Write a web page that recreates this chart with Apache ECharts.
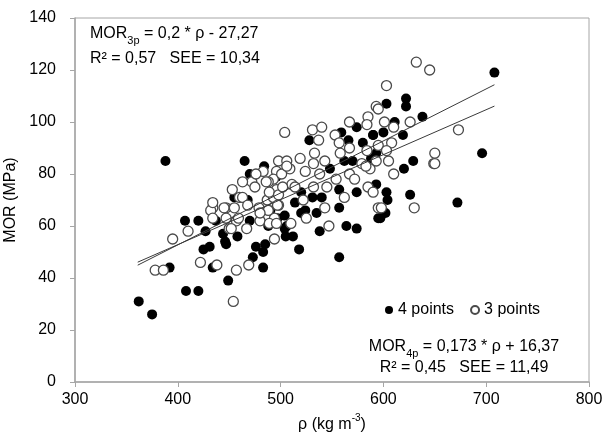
<!DOCTYPE html>
<html>
<head>
<meta charset="utf-8">
<script src="https://cdn.jsdelivr.net/npm/echarts@6/dist/echarts.min.js"></script>
<style>
  html, body { margin: 0; padding: 0; background: #fff; }
  #chart { width: 605px; height: 435px; }
</style>
</head>
<body>
<div id="chart"></div>
<script>
// Density (kg m-3) vs MOR (MPa) for specimens tested in 4-point and 3-point bending
const fourPoints = [
  [362,31],[375,26],[388,85],[408,35],[420,35],[392,44],
  [407,62],[420,62],[427,58],[431,52],[425,51],[434,44],[449,39],
  [437,62],[444,57],[447,53],[446,54],[458,56],[465,85],[484,83],[470,80],
  [455,71],[468,70],[488,60],[497,63],[505,56],[504,59],
  [473,48],[483,50],[476,52],[483,44],[485,53],
  [514,69],[524,66],[535,65],[557,67],[506,60],[512,56],[518,51],[538,58],
  [564,60],[574,59],[557,48],[595,63],[504,64],[520,65],
  [496,79],[540,71],[557,74],[574,73],[593,76],[531,71],[528,93],[559,96],
  [566,93],[574,98],[590,95],[570,85],[588,86],[562,85],
  [629,85],[620,82],[626,72],[672,69],[603,73],[604,70],[602,65],[597,63],
  [708,119],[622,109],[622,106],[603,107],[638,102],[611,100],[600,96],
  [619,95],[590,95],[593,88],[696,88],
  [520,73],[548,82],[580,92],[490,66],[470,62]
];

const threePoints = [
  [378,43],[386,43],[395,55],[410,58],[422,46],[438,45],[454,31],[457,43],
  [469,45],[450,59],[457,62],
  [434,67],[447,67],[432,66],[434,69],[434,63],[447,63],[452,59],[467,59],
  [480,62],[494,63],[459,63],
  [453,74],[460,71],[463,71],[445,67],[455,67],[468,68],[479,67],[487,70],
  [498,68],[488,66],[480,65],[489,61],
  [504,96],[531,97],[540,98],[567,100],[585,102],[584,99],[593,106],[537,93],
  [553,95],[557,92],[567,90],
  [533,88],[543,85],[519,86],[498,85],[506,85],[509,82],[496,81],[558,88],
  [584,89],[579,84],[587,82],[524,81],[532,84],[538,80],[567,80],[554,78],
  [493,78],[511,76],[545,75],[562,71],[572,78],[585,75],[522,70],[493,71],
  [496,74],
  [472,77],[463,77],[488,77],[475,75],[489,73],[498,72],[483,81],[501,80],
  [506,83],[476,80],[486,77],[502,75],[514,75],[532,75],[583,83],
  [494,55],[510,61],[525,63],[497,68],[496,61],[543,67],[547,60],[595,67],
  [649,84],[610,80],[630,67],[590,73],[598,67],
  [632,123],[645,120],[603,114],[595,105],[626,100],[673,97],[650,88],
  [650,84],[601,100],[610,98],[608,92],[595,91],[603,89],[593,85],[605,85]
];

// Linear fits: [slope, intercept] and the density range they span
const fit3p = [0.2, -27.27];
const fit4p = [0.173, -16.37];
const fitRange = [361, 708];

const xTicks = [300, 400, 500, 600, 700, 800];
const yTicks = [0, 20, 40, 60, 80, 100, 120, 140];

function fitLine(fit) {
  return fitRange.map(x => [x, fit[0] * x + fit[1]]);
}

const FONT = "'Liberation Sans', Arial, sans-serif";
const FS = 16;
const AXIS_COLOR = '#a6a6a6';

const eqRich = {
  t: { fontSize: FS, fill: '#000', fontFamily: FONT, lineHeight: 20, verticalAlign: 'top' },
  s: { fontSize: 11, fill: '#000', fontFamily: FONT, lineHeight: 20, verticalAlign: 'bottom' }
};

const chart = echarts.init(document.getElementById('chart'), null, { renderer: 'canvas' });

chart.setOption({
  animation: false,
  backgroundColor: '#fff',
  textStyle: { fontFamily: FONT },
  grid: {
    left: 75, right: 16, top: 18, bottom: 53,
    containLabel: false,
    outerBoundsMode: 'none',
    show: true, borderColor: AXIS_COLOR, borderWidth: 1
  },
  xAxis: {
    type: 'value',
    min: xTicks[0], max: xTicks[xTicks.length - 1], interval: 100,
    name: '{t|ρ (kg m}{s|-3}{t|)}',
    nameLocation: 'middle', nameGap: 29,
    nameTextStyle: {
      rich: {
        t: { fontSize: FS, color: '#000', fontFamily: FONT, lineHeight: 20, verticalAlign: 'bottom' },
        s: { fontSize: 10, color: '#000', fontFamily: FONT, lineHeight: 20, verticalAlign: 'top' }
      }
    },
    axisLine: { lineStyle: { color: AXIS_COLOR, width: 1.5 } },
    axisTick: { show: true, inside: false, length: 5, lineStyle: { color: AXIS_COLOR } },
    axisLabel: { fontSize: FS, color: '#000', margin: 10, fontFamily: FONT },
    splitLine: { show: false }
  },
  yAxis: {
    type: 'value',
    min: yTicks[0], max: yTicks[yTicks.length - 1], interval: 20,
    name: 'MOR (MPa)',
    nameLocation: 'middle', nameGap: 48,
    nameTextStyle: { fontSize: FS, color: '#000', fontFamily: FONT },
    axisLine: { show: true, lineStyle: { color: AXIS_COLOR, width: 1.5 } },
    axisTick: { show: true, inside: false, length: 5, lineStyle: { color: AXIS_COLOR } },
    axisLabel: { fontSize: FS, color: '#000', margin: 19, fontFamily: FONT },
    splitLine: { show: false }
  },
  legend: {
    data: ['4 points', '3 points'],
    left: 385, top: 302,
    icon: 'circle', itemWidth: 8, itemHeight: 8, itemGap: 16,
    padding: 0,
    textStyle: { fontSize: FS, color: '#000', fontFamily: FONT }
  },
  series: [
    {
      name: '4 points', type: 'scatter', data: fourPoints,
      symbol: 'circle', symbolSize: 10,
      itemStyle: { color: '#000', opacity: 1 }, z: 2
    },
    {
      name: '3 points', type: 'scatter', data: threePoints,
      symbol: 'circle', symbolSize: 10,
      itemStyle: { color: '#fff', borderColor: '#4a4a4a', borderWidth: 1.3, opacity: 1 }, z: 3
    },
    {
      name: 'fit 3p', type: 'line', data: fitLine(fit3p),
      symbol: 'none', lineStyle: { color: '#3a3a3a', width: 1 }, z: 4
    },
    {
      name: 'fit 4p', type: 'line', data: fitLine(fit4p),
      symbol: 'none', lineStyle: { color: '#3a3a3a', width: 1 }, z: 4
    }
  ],
  graphic: [
    {
      type: 'text', x: 90, y: 26, z: 10,
      style: { text: '{t|MOR}{s|3p}{t| = 0,2 * ρ - 27,27}', rich: eqRich }
    },
    {
      type: 'text', x: 90, y: 51, z: 10,
      style: { text: 'R² = 0,57   SEE = 10,34', fontSize: FS, fill: '#000', fontFamily: FONT }
    },
    {
      type: 'text', x: 464, y: 339, z: 10,
      style: { text: '{t|MOR}{s|4p}{t| = 0,173 * ρ + 16,37}', rich: eqRich, align: 'center' }
    },
    {
      type: 'text', x: 464, y: 360, z: 10,
      style: { text: 'R² = 0,45   SEE = 11,49', fontSize: FS, fill: '#000', fontFamily: FONT, align: 'center' }
    }
  ]
});
</script>
</body>
</html>
